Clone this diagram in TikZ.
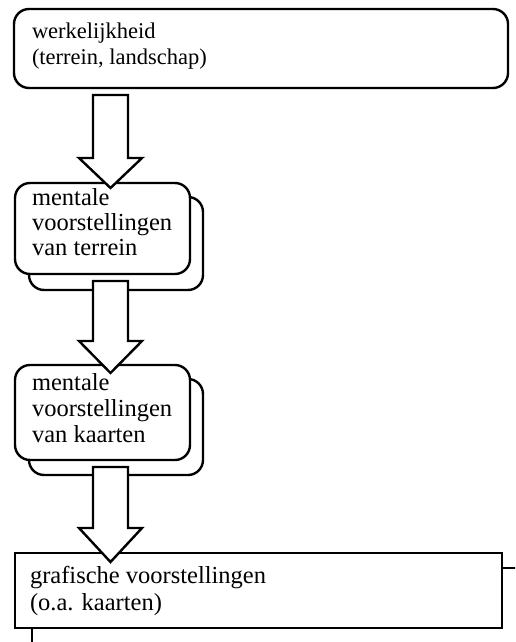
\documentclass[tikz,border=0pt]{standalone}
\usepackage{fontspec}
\setmainfont{Liberation Serif}
\usetikzlibrary{calc}

\tikzset{
  box/.style={draw, line width=2.4pt, fill=white, rounded corners=15pt, inner sep=0pt, outer sep=0pt},
  flatbox/.style={draw, line width=2.4pt, fill=white, sharp corners, inner sep=0pt, outer sep=0pt},
  label/.style={anchor=base west, inner sep=0pt, outer sep=0pt},
  small/.style={font=\fontsize{22.5}{27}\selectfont},
  large/.style={font=\fontsize{24.5}{27}\selectfont},
  blockarrow/.style={draw, line width=2.4pt, fill=white, line join=miter},
}

% block arrow: #1 shaft top, #2 start of head, #3 tip (all y values)
\newcommand\blockarrow[3]{%
  \draw[blockarrow] (93,#1) -- (128,#1) -- (128,#2) -- (142,#2) -- (110.5,#3)
    -- (79,#2) -- (93,#2) -- cycle;}

\begin{document}
\begin{tikzpicture}[x=1pt,y=-1pt]
  \clip (0,0) rectangle (515,642);
  \fill[white] (0,0) rectangle (515,642);

  % reality
  \node[box, anchor=north west, minimum width=494pt, minimum height=79pt] (real) at (14,9) {};
  \node[label, small] (real1) at (32,38) {werkelijkheid};
  \node[label, small] (real2) at (32,65) {(terrein, landschap)};

  % mental images of terrain (stacked)
  \node[box, anchor=north west, minimum width=174pt, minimum height=93pt] (terback) at (29,197) {};
  \node[box, anchor=north west, minimum width=175pt, minimum height=91pt] (ter) at (15,183) {};
  \node[label, large] (ter1) at (32,205) {mentale};
  \node[label, large] (ter2) at (32,230) {voorstellingen};
  \node[label, large] (ter3) at (32,255) {van terrein};

  % mental images of maps (stacked)
  \node[box, anchor=north west, minimum width=174pt, minimum height=96pt] (mapback) at (29,379) {};
  \node[box, anchor=north west, minimum width=175pt, minimum height=95pt] (map) at (15,365) {};
  \node[label, large] (map1) at (32,390) {mentale};
  \node[label, large] (map2) at (32,416) {voorstellingen};
  \node[label, large] (map3) at (32,442) {van kaarten};

  % graphic representations (stacked, back sheet runs off the edge)
  \node[flatbox, anchor=north west, minimum width=500pt, minimum height=90pt] (grafback) at (32,568) {};
  \node[flatbox, anchor=north west, minimum width=487pt, minimum height=75pt] (graf) at (15,553) {};
  \node[label, large] (graf1) at (30,583) {grafische voorstellingen};
  \node[label, large] (graf2) at (30,610) {(o.a. kaarten)};

  % flow arrows
  \blockarrow{95}{158}{188}
  \blockarrow{281}{341}{373}
  \blockarrow{467}{528}{562}
\end{tikzpicture}
\end{document}
